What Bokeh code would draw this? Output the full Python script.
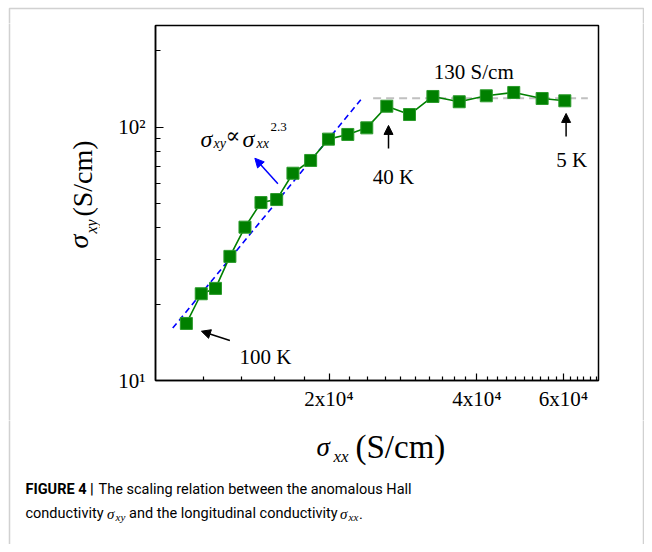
from math import pi
from bokeh.plotting import figure
from bokeh.layouts import column, row
from bokeh.models import Range1d, FixedTicker, Label, Arrow, NormalHead, BoxAnnotation
from bokeh.embed import file_html
from bokeh.resources import INLINE

# ---------------- data ----------------
sigma_xx = [10250, 10990, 11750, 12570, 13490, 14540, 15650, 16890, 18350, 19950,
            21840, 23870, 26220, 29160, 32540, 36810, 41790, 47530, 54290, 60380]
sigma_xy = [16.8, 22.0, 23.1, 30.9, 40.3, 50.4, 51.8, 65.8, 73.9, 89.7,
            93.6, 99.4, 121.0, 112.2, 132.2, 126.0, 133.0, 137.1, 129.8, 127.1]

fit_xx = [9616, 23210]
fit_xy = [16.1, 128.3]
sat_xx = [24590, 67250]
sat_xy = [130, 130]

x_major = [20000, 40000, 60000]
x_major_labels = ["2x10⁴", "4x10⁴", "6x10⁴"]
x_minor = [11100, 13300, 15500, 17800, 22000, 24000, 26000, 28000, 30000, 32000,
           34000, 36000, 38000, 42000, 44000, 46000, 48000, 50000, 52000, 54000,
           56000, 58000, 62000, 64000, 66000, 68000, 70000]
y_major = [10, 100]
y_major_labels = ["10¹", "10²"]
y_minor = [20, 30, 40, 50, 60, 70, 80, 90, 200]

x_lim = [8870, 70700]
y_lim = [10, 252]

note_text = ["130 S/cm", "40 K", "5 K", "100 K"]
note_x = [32680, 24550, 57970, 13150]
note_y = [164.9, 63.5, 73.9, 12.36]

arrow_x_start = [26430, 60740, 12570]
arrow_y_start = [82.4, 91.9, 14.38]
arrow_x_end = [26430, 60740, 11000]
arrow_y_end = [101.6, 113.3, 15.65]

fit_arrow_x = [15740, 14130]
fit_arrow_y = [59.8, 75.4]
formula_x = 10950
formula_y = 90.0

# ---------------- layout geometry (px) ----------------
TOP_H = 23
LEFT_W = 100
MAIN_W = 500           # 55 + 443 + 2
MAIN_H = 397           # 2 + 355 + 40
RIGHT_W = 44
BOTTOM_H = 124
TOTAL_W = LEFT_W + MAIN_W + RIGHT_W   # 644
ROW_BOTTOM = TOP_H + MAIN_H           # 420
TOTAL_H = ROW_BOTTOM + BOTTOM_H       # 544

BOX_LEFT, BOX_TOP, BOX_RIGHT = 9, 8, 643
BOX_COLOR = "#666666"

SERIF = "Liberation Serif"
CAP = "Roboto"

# ---------------- main chart ----------------
p = figure(frame_width=443, frame_height=355,
           x_axis_type="log", y_axis_type="log",
           x_range=Range1d(*x_lim), y_range=Range1d(*y_lim),
           output_backend="svg", toolbar_location=None,
           min_border_left=55, min_border_right=2,
           min_border_top=2, min_border_bottom=40)

p.grid.visible = False
p.background_fill_color = "white"
p.border_fill_color = "white"
p.outline_line_color = "black"
p.outline_line_width = 1.5

xa = p.xaxis[0]
xa.ticker = FixedTicker(ticks=x_major, minor_ticks=x_minor)
xa.major_label_overrides = dict(zip(x_major, x_major_labels))
ya = p.yaxis[0]
ya.ticker = FixedTicker(ticks=y_major, minor_ticks=y_minor)
ya.major_label_overrides = dict(zip(y_major, y_major_labels))

for ax in (xa, ya):
    ax.axis_line_color = "black"
    ax.axis_line_width = 1.5
    ax.major_tick_line_color = "black"
    ax.minor_tick_line_color = "black"
    ax.major_tick_line_width = 1.2
    ax.minor_tick_line_width = 1.2
    ax.major_tick_out = 0
    ax.minor_tick_out = 0
    ax.major_label_text_font = SERIF
    ax.major_label_text_font_size = "21px"
    ax.major_label_text_color = "black"
xa.major_tick_in = 7
xa.minor_tick_in = 4
ya.major_tick_in = 8
ya.minor_tick_in = 5
xa.major_label_standoff = 6
ya.major_label_standoff = 10

p.line(fit_xx, fit_xy, line_color="#0000ff", line_dash="6 4", line_width=1.6)
p.line(sat_xx, sat_xy, line_color="#c0c0c0", line_dash="8 5", line_width=2)
p.line(sigma_xx, sigma_xy, line_color="#008000", line_width=1.6)
p.scatter(sigma_xx, sigma_xy, marker="square", size=12,
          fill_color="#008000", line_color="#2a9a2a", line_width=1)

for t, x, y in zip(note_text, note_x, note_y):
    p.add_layout(Label(x=x, y=y, text=t, text_font=SERIF,
                       text_font_size="21px", text_color="black",
                       text_align="left", text_baseline="alphabetic"))

for xs, ys, xe, ye in zip(arrow_x_start, arrow_y_start, arrow_x_end, arrow_y_end):
    p.add_layout(Arrow(x_start=xs, y_start=ys, x_end=xe, y_end=ye,
                       line_color="black", line_width=1.5,
                       end=NormalHead(size=9, fill_color="black", line_color="black")))

p.add_layout(Arrow(x_start=fit_arrow_x[0], y_start=fit_arrow_y[0],
                   x_end=fit_arrow_x[1], y_end=fit_arrow_y[1],
                   line_color="#0000ff", line_width=1.5,
                   end=NormalHead(size=9, fill_color="#0000ff", line_color="#0000ff")))

formula_parts = [
    ("σ", 0, 0, "24px", "italic", SERIF),
    ("xy", 13, -5, "14px", "italic", SERIF),
    ("∝", 25, 3, "22px", "normal", "DejaVu Serif"),
    ("σ", 42, 0, "24px", "italic", SERIF),
    ("xx", 56, -5, "14px", "italic", SERIF),
    ("2.3", 70, 12, "13px", "normal", SERIF),
]
for t, dx, dy, fs, st, fn in formula_parts:
    p.add_layout(Label(x=formula_x, y=formula_y, x_offset=dx, y_offset=dy, text=t,
                       text_font=fn, text_font_size=fs, text_font_style=st,
                       text_align="left", text_baseline="alphabetic", text_color="black"))


# ---------------- text / frame panels (the frame covers the whole panel) ----------------
def text_panel(w, h, x0, y_bottom):
    f = figure(width=w, height=h, x_range=Range1d(0, w), y_range=Range1d(0, h),
               x_axis_location=None, y_axis_location=None, min_border=0,
               output_backend="svg", toolbar_location=None)
    f.grid.visible = False
    f.outline_line_color = None
    f.background_fill_color = "white"
    f.border_fill_color = "white"
    # outer grey box of the figure panel (page coordinates -> panel coordinates)
    f.add_layout(BoxAnnotation(left=BOX_LEFT - x0, right=BOX_RIGHT - x0,
                               top=y_bottom - BOX_TOP, bottom=-5000,
                               fill_alpha=0, fill_color=None,
                               line_color=BOX_COLOR, line_width=1.5))
    f._x0, f._yb = x0, y_bottom
    return f


top = text_panel(TOTAL_W, TOP_H, 0, TOP_H)
left = text_panel(LEFT_W, MAIN_H, 0, ROW_BOTTOM)
right = text_panel(RIGHT_W, MAIN_H, LEFT_W + MAIN_W, ROW_BOTTOM)
bottom = text_panel(TOTAL_W, BOTTOM_H, 0, TOTAL_H)


def put(panel, text, rx, ry, size, style="normal", font=SERIF, angle=0.0,
        align="left", baseline="alphabetic"):
    panel.add_layout(Label(x=rx - panel._x0, y=panel._yb - ry, text=text, text_font=font,
                           text_font_size=size, text_font_style=style, angle=angle,
                           text_align=align, text_baseline=baseline,
                           text_color="black"))


# y title (rotated, centre-anchored)
put(left, "σ", 78, 241, "28px", "italic", angle=pi / 2, align="center", baseline="middle")
put(left, "xy", 91, 226, "16px", "italic", angle=pi / 2, align="center", baseline="middle")
put(left, "(S/cm)", 82, 178, "28px", angle=pi / 2, align="center", baseline="middle")

# x title
put(bottom, "σ", 316, 446, "27px", "italic")
put(bottom, "xx", 333, 456, "17px", "italic")
put(bottom, "(S/cm)", 355, 446, "33px")

# caption
put(bottom, "FIGURE 4 |", 25, 489, "14.5px", "bold", CAP)
put(bottom, "The scaling relation between the anomalous Hall", 98, 489, "14.5px", "normal", CAP)
put(bottom, "conductivity", 25, 513, "14.5px", "normal", CAP)
put(bottom, "σ", 106.5, 513, "15px", "italic", SERIF)
put(bottom, "xy", 115, 516, "11px", "italic", SERIF)
put(bottom, "and the longitudinal conductivity", 128.5, 513, "14.5px", "normal", CAP)
put(bottom, "σ", 339.5, 513, "15px", "italic", SERIF)
put(bottom, "xx", 348, 516, "11px", "italic", SERIF)
put(bottom, ".", 358.5, 513, "14.5px", "normal", CAP)

# wrap the side panels so that their frames are not aligned with the chart frame
layout = column(top, row(column(left), p, column(right), spacing=0), bottom, spacing=0)

open("out.html", "w").write(file_html(layout, INLINE))
